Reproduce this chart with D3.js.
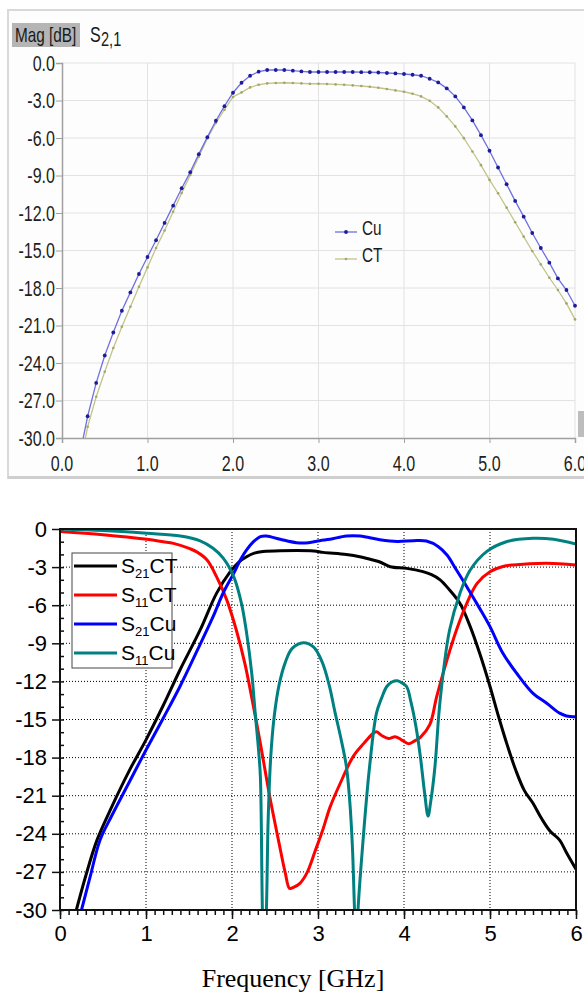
<!DOCTYPE html>
<html><head><meta charset="utf-8">
<script src="https://cdn.jsdelivr.net/npm/d3@7"></script>
<style>body{margin:0;background:#fff}svg{display:block}</style>
</head><body>
<svg id="c" width="584" height="994"></svg>
<script>
// ---------- Top chart data (S2,1 magnitude, dB) ----------
const topFreq = [0.2,0.3,0.4,0.5,0.6,0.7,0.8,0.9,1.0,1.1,1.2,1.3,1.4,1.5,1.6,1.7,1.8,1.9,2.0,2.1,2.2,2.3,2.4,2.5,2.6,2.7,2.8,2.9,3.0,3.1,3.2,3.3,3.4,3.5,3.6,3.7,3.8,3.9,4.0,4.1,4.2,4.3,4.4,4.5,4.6,4.7,4.8,4.9,5.0,5.1,5.2,5.3,5.4,5.5,5.6,5.7,5.8,5.9,6.0];
const cuMag = [-31.6,-28.26,-25.59,-23.40,-21.56,-19.82,-18.35,-16.88,-15.52,-14.18,-12.79,-11.41,-10.02,-8.73,-7.29,-5.93,-4.62,-3.45,-2.38,-1.58,-1.02,-0.69,-0.56,-0.56,-0.56,-0.61,-0.67,-0.72,-0.72,-0.72,-0.72,-0.72,-0.72,-0.73,-0.74,-0.76,-0.80,-0.83,-0.88,-0.94,-1.02,-1.26,-1.55,-2.03,-2.67,-3.55,-4.59,-5.77,-7.02,-8.36,-9.70,-11.03,-12.29,-13.60,-14.80,-15.97,-17.23,-18.16,-19.42];
const ctMag = [-32.5,-29.1,-26.7,-24.7,-22.8,-21.1,-19.5,-17.9,-16.35,-14.8,-13.4,-11.9,-10.4,-8.95,-7.5,-6.04,-4.8,-3.74,-2.72,-2.35,-1.95,-1.74,-1.63,-1.60,-1.58,-1.60,-1.63,-1.66,-1.66,-1.68,-1.71,-1.74,-1.79,-1.84,-1.90,-1.98,-2.08,-2.19,-2.30,-2.46,-2.67,-3.02,-3.55,-4.27,-5.07,-6.01,-7.08,-8.17,-9.35,-10.42,-11.57,-12.74,-13.89,-15.04,-16.11,-17.18,-18.16,-19.23,-20.51];
const topXTicks = [0,1,2,3,4,5,6];
const topYTicks = [0,-3,-6,-9,-12,-15,-18,-21,-24,-27,-30];
const topLegend = ["Cu","CT"];

// ---------- Bottom chart data (dB) ----------
const s21ctF = [0.19,0.3,0.43,0.6,0.8,1.0,1.2,1.395,1.63,1.82,1.98,2.08,2.17,2.26,2.36,2.56,2.95,3.06,3.33,3.5,3.64,3.72,3.84,4.03,4.22,4.32,4.42,4.53,4.65,4.77,4.88,5.0,5.1,5.2,5.3,5.4,5.5,5.6,5.7,5.81,5.89,6.0];
const s21ctDb = [-30.0,-27.3,-24.5,-21.9,-19.1,-16.6,-13.9,-11.1,-7.95,-5.07,-3.36,-2.6,-2.18,-1.9,-1.78,-1.71,-1.73,-1.84,-2.0,-2.2,-2.44,-2.6,-2.97,-3.10,-3.36,-3.6,-4.0,-4.8,-5.85,-7.69,-9.79,-12.4,-14.78,-17.0,-19.0,-20.6,-21.6,-22.8,-23.8,-24.5,-25.5,-26.8];
const s11ctF = [0,0.5,1.01,1.2,1.32,1.51,1.59,1.71,1.82,1.94,2.05,2.15,2.25,2.33,2.44,2.54,2.62,2.67,2.72,2.79,2.87,2.97,3.06,3.14,3.26,3.41,3.53,3.64,3.68,3.75,3.82,3.90,3.97,4.05,4.12,4.19,4.30,4.38,4.50,4.61,4.73,4.85,5.0,5.15,5.27,5.66,6.0];
const s11ctDb = [-0.2,-0.45,-0.81,-1.0,-1.13,-1.55,-1.8,-2.44,-3.75,-5.6,-7.95,-10.6,-14.0,-16.9,-21.1,-24.5,-27.1,-28.3,-28.2,-27.9,-27.1,-25.3,-23.6,-21.9,-20.0,-17.9,-16.9,-16.1,-15.97,-16.3,-16.5,-16.35,-16.6,-16.9,-16.7,-16.4,-15.4,-13.2,-10.3,-7.95,-5.85,-4.28,-3.36,-2.95,-2.83,-2.7,-2.83];
const s21cuF = [0.25,0.35,0.465,0.6,0.8,1.0,1.2,1.395,1.6,1.78,1.9,2.02,2.1,2.17,2.25,2.33,2.40,2.56,2.75,2.89,3.02,3.14,3.33,3.49,3.72,3.92,4.11,4.26,4.40,4.50,4.61,4.73,4.88,5.0,5.15,5.31,5.50,5.66,5.81,5.89,6.0];
const s21cuDb = [-30,-27.4,-24.5,-22.6,-20.0,-17.4,-14.9,-12.4,-9.5,-6.9,-5.0,-3.49,-2.4,-1.65,-1.0,-0.6,-0.55,-0.81,-1.08,-1.08,-0.92,-0.81,-0.55,-0.55,-0.84,-0.98,-0.92,-0.95,-1.39,-2.05,-3.23,-4.54,-6.25,-7.69,-9.79,-11.36,-12.94,-13.72,-14.5,-14.72,-14.78];
const s11cuF = [0,0.5,1.01,1.4,1.63,1.78,1.90,2.02,2.11,2.17,2.23,2.27,2.31,2.33,2.355,2.375,2.40,2.42,2.45,2.49,2.55,2.62,2.70,2.83,2.95,3.05,3.13,3.20,3.27,3.33,3.37,3.40,3.425,3.445,3.465,3.53,3.60,3.68,3.74,3.80,3.86,3.92,3.97,4.03,4.08,4.14,4.19,4.24,4.28,4.31,4.36,4.40,4.42,4.46,4.53,4.65,4.77,4.96,5.19,5.50,5.74,6.0];
const s11cuDb = [0,-0.12,-0.34,-0.55,-0.93,-1.52,-2.31,-3.75,-5.85,-8.2,-11.4,-14.5,-17.5,-19.5,-30.5,-34,-30,-23,-18,-14.8,-12.2,-10.5,-9.4,-8.95,-9.3,-10.5,-12.3,-14.5,-16.6,-18.7,-21.5,-25,-30,-33,-30,-24.0,-18.7,-14.5,-13.3,-12.4,-12.05,-11.95,-12.1,-12.4,-13.6,-15.6,-17.9,-20.8,-22.6,-21.5,-18.7,-15.0,-13.5,-11.1,-7.95,-5.07,-3.23,-1.78,-1.0,-0.73,-0.81,-1.18];
const botXTicks = [0,1,2,3,4,5,6];
const botYTicks = [0,-3,-6,-9,-12,-15,-18,-21,-24,-27,-30];
const botSeries = [
  {name:"S", sub:"21", tail:"CT", f:s21ctF, v:s21ctDb, color:"#000000"},
  {name:"S", sub:"11", tail:"CT", f:s11ctF, v:s11ctDb, color:"#ff0000"},
  {name:"S", sub:"21", tail:"Cu", f:s21cuF, v:s21cuDb, color:"#0000ff"},
  {name:"S", sub:"11", tail:"Cu", f:s11cuF, v:s11cuDb, color:"#008080"}
];

const svg = d3.select("#c");
const SX = 0.73; // horizontal squeeze of the top panel font
function sqText(g, x, y, txt, size, anchor, fill){
  const gg = g.append("g").attr("transform",`translate(${x},${y}) scale(${SX},1)`);
  return gg.append("text").attr("x",0).attr("y",0).attr("font-family","Liberation Sans, Arial, sans-serif")
    .attr("font-size",size).attr("text-anchor",anchor||"start").attr("fill",fill||"#1e1e1e").text(txt);
}

// ================= TOP PANEL =================
const topG = svg.append("g");
topG.append("rect").attr("x",8).attr("y",10).attr("width",580).attr("height",468).attr("fill","#fdfdfd")
  .attr("stroke","#d9d9d9").attr("stroke-width",2);
topG.append("rect").attr("x",8).attr("y",476).attr("width",576).attr("height",3).attr("fill","#cfcfcf");
const tx = d3.scaleLinear().domain([0,6]).range([62,575]);
const ty = d3.scaleLinear().domain([0,-30]).range([63,438]);

// grid
topG.append("g").selectAll("line").data(topXTicks.slice(1)).join("line")
  .attr("x1",d=>tx(d)).attr("x2",d=>tx(d)).attr("y1",ty(0)).attr("y2",ty(-30)).attr("stroke","#e2e2e2").attr("stroke-width",1);
topG.append("g").selectAll("line").data(topYTicks.slice(0,-1)).join("line")
  .attr("x1",tx(0)).attr("x2",tx(6)).attr("y1",d=>ty(d)).attr("y2",d=>ty(d)).attr("stroke","#e2e2e2").attr("stroke-width",1);

// axes
const tyAxis = topG.append("g").attr("transform",`translate(${tx(0)},0)`)
  .call(d3.axisLeft(ty).tickValues(topYTicks).tickSize(6).tickFormat(""));
const txAxis = topG.append("g").attr("transform",`translate(0,${ty(-30)})`)
  .call(d3.axisBottom(tx).tickValues(topXTicks).tickSize(5).tickFormat(""));
[tyAxis,txAxis].forEach(a=>{a.select(".domain").attr("stroke","#a0a0a0").attr("stroke-width",1.5);a.selectAll(".tick line").attr("stroke","#a0a0a0");});
topYTicks.forEach(d=>sqText(topG,55,ty(d)+7.5,d.toFixed(1),22,"end"));
topXTicks.forEach(d=>sqText(topG,tx(d),471,d.toFixed(1),22,"middle"));

// header
topG.append("rect").attr("x",12).attr("y",23).attr("width",68).attr("height",24).attr("fill","#b5b5b5");
sqText(topG,15,42,"Mag [dB]",21,"start","#1a1a1a");
sqText(topG,90,42,"S",22,"start","#1a1a1a");
sqText(topG,101,46,"2,1",20,"start","#1a1a1a");

// scroll handle
topG.append("rect").attr("x",578).attr("y",411).attr("width",6).attr("height",26).attr("fill","#bdbdbd");

// curves
topG.append("clipPath").attr("id","tclip").append("rect").attr("x",62).attr("y",60).attr("width",516).attr("height",378);
const tplot = topG.append("g").attr("clip-path","url(#tclip)");
const tline = d3.line().x(d=>tx(d[0])).y(d=>ty(d[1]));
const cuPts = topFreq.map((f,i)=>[f,cuMag[i]]);
const ctPts = topFreq.map((f,i)=>[f,ctMag[i]]);
tplot.append("path").attr("d",tline(ctPts)).attr("fill","none").attr("stroke","#c2c48a").attr("stroke-width",1.3);
tplot.append("g").selectAll("circle").data(ctPts).join("circle").attr("cx",d=>tx(d[0])).attr("cy",d=>ty(d[1])).attr("r",1.3).attr("fill","#a4a668");
tplot.append("path").attr("d",tline(cuPts)).attr("fill","none").attr("stroke","#7070e0").attr("stroke-width",1.3);
tplot.append("g").selectAll("circle").data(cuPts).join("circle").attr("cx",d=>tx(d[0])).attr("cy",d=>ty(d[1])).attr("r",1.9).attr("fill","#1c1c9a");

// legend
const lgCol = [{s:"#7070e0",m:"#1c1c9a",r:1.9},{s:"#c2c48a",m:"#a4a668",r:1.3}];
topLegend.forEach((n,i)=>{
  const y = 232 + i*27;
  topG.append("line").attr("x1",335).attr("x2",357).attr("y1",y).attr("y2",y).attr("stroke",lgCol[i].s).attr("stroke-width",1.3);
  topG.append("circle").attr("cx",346).attr("cy",y).attr("r",lgCol[i].r).attr("fill",lgCol[i].m);
  sqText(topG,362,y+3,n,21,"start","#1a1a1a");
});

// ================= BOTTOM PANEL =================
const bot = svg.append("g");
const bx = d3.scaleLinear().domain([0,6]).range([60,576]);
const by = d3.scaleLinear().domain([0,-30]).range([529,910]);

// dotted grid
bot.append("g").selectAll("line").data(botXTicks.slice(1,-1)).join("line")
  .attr("x1",d=>bx(d)).attr("x2",d=>bx(d)).attr("y1",by(0)).attr("y2",by(-30))
  .attr("stroke","#000").attr("stroke-width",1).attr("stroke-dasharray","1,2");
bot.append("g").selectAll("line").data(botYTicks.slice(1,-1)).join("line")
  .attr("x1",bx(0)).attr("x2",bx(6)).attr("y1",d=>by(d)).attr("y2",d=>by(d))
  .attr("stroke","#000").attr("stroke-width",1).attr("stroke-dasharray","1,2");

// curves
bot.append("clipPath").attr("id","bclip").append("rect").attr("x",60).attr("y",529).attr("width",516).attr("height",381);
const bplot = bot.append("g").attr("clip-path","url(#bclip)");
const bline = d3.line().x(d=>bx(d[0])).y(d=>by(d[1])).curve(d3.curveCatmullRom.alpha(0.5));
botSeries.forEach(s=>{
  bplot.append("path").attr("d",bline(s.f.map((f,i)=>[f,s.v[i]])))
    .attr("fill","none").attr("stroke",s.color).attr("stroke-width",3).attr("stroke-linejoin","round");
});

// frame
bot.append("rect").attr("x",60).attr("y",529).attr("width",516).attr("height",381)
  .attr("fill","none").attr("stroke","#111").attr("stroke-width",2);

// axes ticks
const minorY = d3.range(0,-31,-1);
const minorX = d3.range(0,61).map(d=>d/10);
const byMinor = bot.append("g").attr("transform",`translate(${bx(0)},0)`)
  .call(d3.axisRight(by).tickValues(minorY).tickSize(4).tickFormat(""));
const byMajor = bot.append("g").attr("transform",`translate(${bx(0)},0)`)
  .call(d3.axisLeft(by).tickValues(botYTicks).tickSize(8).tickPadding(5).tickFormat(d3.format("d")));
const bxMinor = bot.append("g").attr("transform",`translate(0,${by(-30)})`)
  .call(d3.axisBottom(bx).tickValues(minorX).tickSize(5).tickFormat(""));
const bxMajor = bot.append("g").attr("transform",`translate(0,${by(-30)})`)
  .call(d3.axisBottom(bx).tickValues(botXTicks).tickSize(9).tickPadding(6).tickFormat(d3.format("d")));
[byMinor,byMajor,bxMinor,bxMajor].forEach(a=>{
  a.select(".domain").remove();
  a.selectAll(".tick line").attr("stroke","#111").attr("stroke-width",1.5);
  a.selectAll("text").attr("font-family","Liberation Sans, Arial, sans-serif").attr("font-size",22).attr("fill","#000");
});
byMajor.selectAll("text").text(d=>d===0?"0":"-"+Math.abs(d));

// x title
bot.append("text").attr("x",293).attr("y",987).attr("text-anchor","middle")
  .attr("font-family","Liberation Serif, Times New Roman, serif").attr("font-size",26).attr("fill","#000").text("Frequency [GHz]");

// legend
const lg = bot.append("g");
lg.append("rect").attr("x",72).attr("y",553).attr("width",100).attr("height",115).attr("fill","#fff").attr("stroke","#444").attr("stroke-width",1);
botSeries.forEach((s,i)=>{
  const y = 566 + i*29;
  lg.append("line").attr("x1",74).attr("x2",117).attr("y1",y).attr("y2",y).attr("stroke",s.color).attr("stroke-width",3);
  const t = lg.append("text").attr("x",121).attr("y",y+7).attr("font-family","Liberation Sans, Arial, sans-serif").attr("font-size",21).attr("fill","#000");
  t.append("tspan").text(s.name);
  t.append("tspan").attr("font-size",13).attr("dy",5).text(s.sub);
  t.append("tspan").attr("dy",-5).text(s.tail);
});
</script>
</body></html>
